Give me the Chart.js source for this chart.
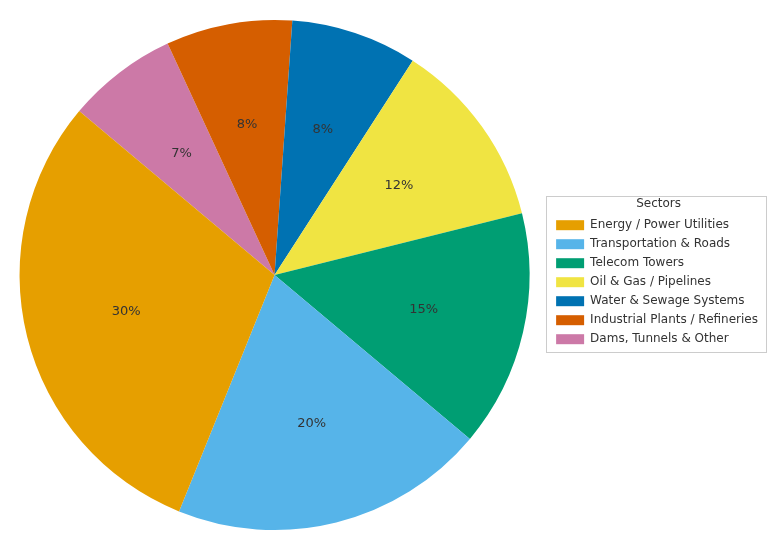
<!DOCTYPE html>
<html><head><meta charset="utf-8">
<script src="https://cdn.jsdelivr.net/npm/chart.js@4"></script>
<style>html,body{margin:0;padding:0;background:#fff}#w{width:768px;height:537px}</style>
</head><body><div id="w"><canvas id="c"></canvas></div>
<script>
const categories = ["Energy / Power Utilities","Transportation & Roads","Telecom Towers","Oil & Gas / Pipelines","Water & Sewage Systems","Industrial Plants / Refineries","Dams, Tunnels & Other"];
const shares = [30,20,15,12,8,8,7];
const colors = ["#E69F00","#56B4E9","#009E73","#F0E442","#0072B2","#D55E00","#CC79A7"];
// matplotlib draws counter-clockwise; Chart.js clockwise -> reverse order
const rl = categories.slice().reverse(), rv = shares.slice().reverse(), rc = colors.slice().reverse();

const pctLabels = {
  id:'pct',
  afterDatasetsDraw(chart){
    const ctx = chart.ctx;
    const meta = chart.getDatasetMeta(0);
    ctx.save();
    ctx.font = '13px "DejaVu Sans"';
    ctx.fillStyle = '#333';
    ctx.textAlign='center'; ctx.textBaseline='middle';
    meta.data.forEach((a,i)=>{
      const mid=(a.startAngle+a.endAngle)/2, r=a.outerRadius*0.6;
      ctx.fillText(rv[i]+'%', a.x+Math.cos(mid)*r, a.y+Math.sin(mid)*r);
    });
    ctx.restore();
  }
};
const legendBox = {
  id:'lbox',
  afterDraw(chart){
    const l=chart.legend, ctx=chart.ctx;
    ctx.save(); ctx.strokeStyle='#ccc'; ctx.lineWidth=1;
    ctx.strokeRect(546.5, 196.5, 220, 156);
    ctx.restore();
  }
};
new Chart(document.getElementById('c'),{
  type:'pie',
  data:{labels:rl,datasets:[{data:rv,backgroundColor:rc,borderWidth:0}]},
  options:{
    responsive:true, maintainAspectRatio:false, animation:false,
    rotation:-50,
    layout:{padding:{top:20,bottom:7,left:0,right:0}},
    plugins:{
      tooltip:{enabled:false},
      legend:{position:'right',reverse:true,
        title:{display:true,text:'Sectors',color:'#333',font:{family:'DejaVu Sans',size:12},padding:{top:0,bottom:0}},
        labels:{boxWidth:28,boxHeight:10,padding:7,color:'#333',font:{family:'DejaVu Sans',size:12}}}
    }
  },
  plugins:[pctLabels,legendBox]
});
</script></body></html>
